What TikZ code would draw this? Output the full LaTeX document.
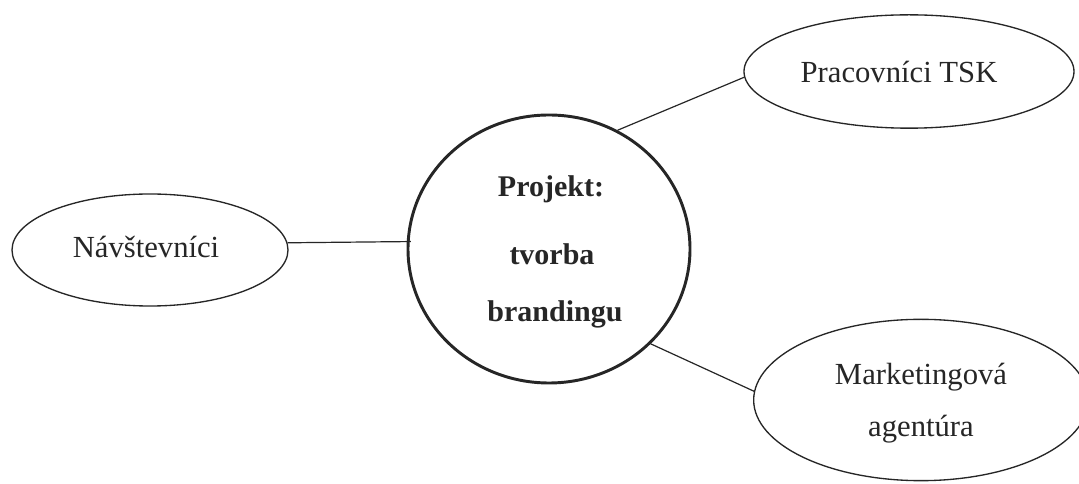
\documentclass[tikz,border=0pt]{standalone}
\usepackage{fontspec}
\setmainfont{Liberation Serif}
\usetikzlibrary{shapes.geometric}
\definecolor{ink}{HTML}{262626}
\tikzset{
  party/.style={ellipse, draw=ink, line width=1pt, inner sep=0pt,
    font=\fontsize{23}{28}\selectfont, text=ink},
  hub/.style={ellipse, draw=ink, line width=2.2pt, inner sep=0pt},
  hubtext/.style={anchor=base, inner sep=0pt, text=ink,
    font=\fontsize{22.5}{27}\selectfont\bfseries},
  link/.style={draw=ink, line width=0.9pt}
}
\begin{document}
\begin{tikzpicture}[x=0.75pt, y=-0.75pt]
  \clip (0,0) rectangle (1079,484);
  \fill[white] (0,0) rectangle (1079,484);

  % central project
  \node[hub, minimum width=211.5pt, minimum height=201pt] (proj) at (549,249) {};
  \node[hubtext] (t1) at (551,197) {Projekt:};
  \node[hubtext] (t2) at (552,265) {tvorba};
  \node[hubtext] (t3) at (555,322) {brandingu};

  % stakeholders
  \node[party, minimum width=207pt, minimum height=84pt] (nav) at (150,250) {};
  \node[anchor=base, inner sep=0pt, text=ink, font=\fontsize{23}{28}\selectfont] (navt) at (146,258) {Návštevníci};

  \node[party, minimum width=247.5pt, minimum height=85pt] (prac) at (909,71.5) {};
  \node[anchor=base, inner sep=0pt, text=ink, font=\fontsize{23}{28}\selectfont] (pract) at (899,83) {Pracovníci TSK};

  \node[party, minimum width=251pt, minimum height=121pt] (mkt) at (921,400) {};
  \node[anchor=base, inner sep=0pt, text=ink, font=\fontsize{23}{28}\selectfont] (mkt1) at (921,385) {Marketingová};
  \node[anchor=base, inner sep=0pt, text=ink, font=\fontsize{23}{28}\selectfont] (mkt2) at (921,437) {agentúra};

  % connections
  \draw[link] (nav.3.3) -- ([xshift=3pt]proj.177);
  \draw[link] (proj.60.3) -- (prac.182);
  \draw[link] (proj.-43.9) -- (mkt.177.6);
\end{tikzpicture}
\end{document}
